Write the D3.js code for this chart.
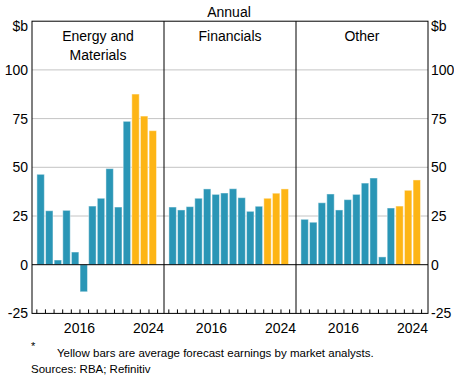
<!DOCTYPE html>
<html><head><meta charset="utf-8">
<script src="https://cdn.jsdelivr.net/npm/d3@7"></script>
<style>
html,body{margin:0;padding:0;background:#fff;}
svg{display:block;font-family:Arial,"Liberation Sans",sans-serif;}
</style></head>
<body>
<svg id="c" width="454" height="375"></svg>
<script>
const years = [2011,2012,2013,2014,2015,2016,2017,2018,2019,2020,2021,2022,2023,2024];
const forecastFrom = 2022;
const panelTitles = [["Energy and","Materials"],["Financials"],["Other"]];
const energyMaterials = [46.4,27.7,2.4,27.9,6.5,-13.9,30.1,34.1,49.3,29.6,73.6,87.6,76.3,68.8];
const financials = [29.6,28.1,29.8,34.1,38.9,36.1,36.8,39.0,34.4,27.4,30.0,34.1,36.7,38.9];
const other = [23.3,21.8,31.8,36.3,28.1,33.4,36.1,41.9,44.5,4.0,29.1,30.1,38.2,43.5];
const yTickValues = [-25,0,25,50,75,100];
const xLabelYears = [2016,2024];
const subtitle = "Annual";
const unit = "$b";
const footnote = "Yellow bars are average forecast earnings by market analysts.";
const sources = "Sources: RBA; Refinitiv";

const series = [energyMaterials, financials, other];
const svg = d3.select("#c");
const L = 32, R = 428, T = 21.2, B = 313.4;
const panelW = (R - L) / 3;
const y = d3.scaleLinear().domain([-25,125]).range([B, T]);
const teal = "#2a96b6", gold = "#fdb515";

// gridlines
svg.append("g").selectAll("line").data([25,50,75,100]).join("line")
  .attr("x1", L).attr("x2", R).attr("y1", d=>y(d)).attr("y2", d=>y(d))
  .attr("stroke", "#c4c4c4").attr("stroke-width", 1);

series.forEach((vals, p) => {
  const p0 = L + p*panelW;
  const x = d3.scaleLinear().domain([2010.5, 2025.8]).range([p0, p0+panelW]);
  const g = svg.append("g");
  g.selectAll("rect").data(years.map((yr,i)=>({yr, v: vals[i]}))).join("rect")
    .attr("x", d => x(d.yr + 0.07))
    .attr("width", d => x(d.yr + 0.93) - x(d.yr + 0.07))
    .attr("y", d => y(Math.max(0, d.v)))
    .attr("height", d => Math.abs(y(d.v) - y(0)))
    .attr("fill", d => d.yr >= forecastFrom ? gold : teal)
    .attr("stroke", "#ffffff").attr("stroke-opacity", 0.45).attr("stroke-width", 1);
  // bottom ticks
  const axis = d3.axisBottom(x).tickValues(d3.range(2011, 2026)).tickSize(-4).tickFormat("");
  const ag = g.append("g").attr("transform", `translate(0,${B})`).call(axis);
  ag.select(".domain").remove();
  ag.selectAll("line").attr("stroke", "#000");
  // year labels
  g.selectAll("text.xl").data(xLabelYears).join("text").attr("class","xl")
    .attr("x", d => x(d)).attr("y", B + 20).attr("text-anchor","middle")
    .attr("font-size", 14).attr("fill","#000").text(d => d);
  // panel title
  const cx = p0 + panelW/2;
  panelTitles[p].forEach((t, k) => {
    g.append("text").attr("x", cx).attr("y", 41 + k*19).attr("text-anchor","middle")
      .attr("font-size", 14).attr("fill","#000").text(t);
  });
});

// zero line
svg.append("line").attr("x1", L).attr("x2", R).attr("y1", y(0)).attr("y2", y(0))
  .attr("stroke","#000").attr("stroke-width",1);

// frame and dividers
svg.append("rect").attr("x", L).attr("y", T).attr("width", R-L).attr("height", B-T)
  .attr("fill","none").attr("stroke","#000").attr("stroke-width",1);
[1,2].forEach(k => svg.append("line").attr("x1", L+k*panelW).attr("x2", L+k*panelW)
  .attr("y1", T).attr("y2", B).attr("stroke","#000").attr("stroke-width",1));

// y axes
const fmt = d => String(d);
const yl = d3.axisLeft(y).tickValues(yTickValues).tickSize(0).tickPadding(4).tickFormat(fmt);
const gl = svg.append("g").attr("transform", `translate(${L},0)`).call(yl);
const yr = d3.axisRight(y).tickValues(yTickValues).tickSize(0).tickPadding(3).tickFormat(fmt);
const gr = svg.append("g").attr("transform", `translate(${R},0)`).call(yr);
[gl, gr].forEach(g => {
  g.select(".domain").remove();
  g.selectAll("text").attr("font-size", 14).attr("font-family","Arial, 'Liberation Sans', sans-serif").attr("fill","#000");
});
svg.append("text").attr("x", L-4).attr("y", y(125)+10).attr("text-anchor","end")
  .attr("font-size",14).attr("fill","#000").text(unit);
svg.append("text").attr("x", R+3).attr("y", y(125)+10).attr("text-anchor","start")
  .attr("font-size",14).attr("fill","#000").text(unit);

// subtitle
svg.append("text").attr("x", 229).attr("y", 17).attr("text-anchor","middle")
  .attr("font-size",14).attr("fill","#000").text(subtitle);

// footnotes
svg.append("text").attr("x", 31).attr("y", 350).attr("font-size", 11).attr("fill","#000").text("*");
svg.append("text").attr("x", 57).attr("y", 357).attr("font-size", 11.5).attr("fill","#000").text(footnote);
svg.append("text").attr("x", 31).attr("y", 373).attr("font-size", 11.5).attr("fill","#000").text(sources);
</script>
</body></html>
